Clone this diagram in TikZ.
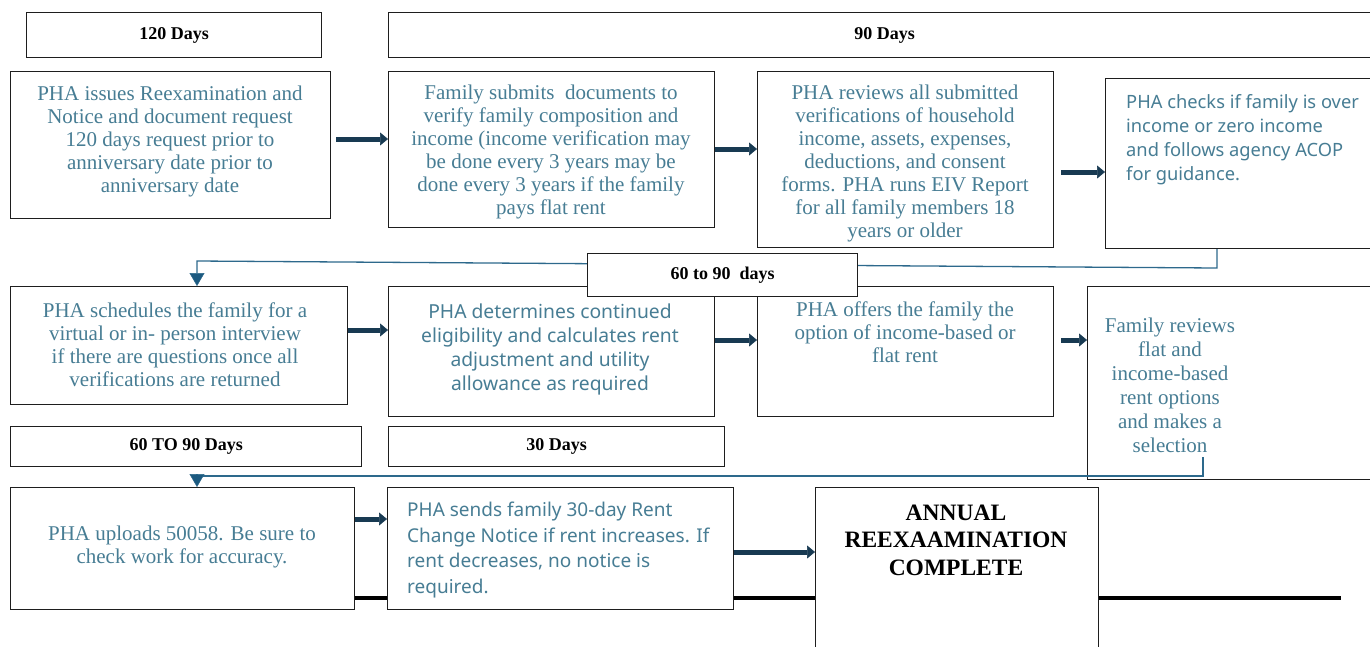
\documentclass[tikz,border=0pt]{standalone}
\usepackage{fontspec}
\setmainfont{Liberation Serif}
\newfontfamily\apt{Noto Sans}
\usetikzlibrary{arrows.meta,calc}
\definecolor{txtc}{RGB}{71,125,148}
\definecolor{arrc}{RGB}{24,58,82}
\definecolor{conc}{RGB}{45,105,140}
\definecolor{tipc}{RGB}{28,90,128}
\definecolor{bord}{RGB}{30,30,30}
\begin{document}
\begin{tikzpicture}[x=1pt,y=-1pt,
 box/.style={draw=bord, line width=1.2pt, fill=white, anchor=north west, inner sep=0pt},
 hbox/.style={box, line width=1.4pt, font=\bfseries\fontsize{18}{22}\selectfont},
 stxt/.style={text=txtc, align=center, inner sep=0pt, font=\fontsize{21}{23}\selectfont},
 ftxt/.style={text=txtc, align=left, inner sep=0pt, anchor=west, font=\apt\fontsize{18.3}{24}\selectfont},
 fctxt/.style={text=txtc, align=center, inner sep=0pt, font=\apt\fontsize{19.3}{24}\selectfont},
 btxt/.style={align=center, inner sep=0pt, font=\bfseries\fontsize{23.5}{27.5}\selectfont},
 barrow/.style={draw=arrc, line width=5pt, -{Triangle[length=8pt,width=13pt,line width=0.5pt]}},
 conn/.style={draw=conc, line width=1.3pt, -{Triangle[length=13pt,width=15pt,line width=0.5pt,fill=tipc]}},
]
\useasboundingbox (0,0) rectangle (1370,646);
\clip (0,0) rectangle (1370,646);

% headers row 1
\node[hbox, minimum width=295, minimum height=45] (h1) at (26,12) {120 Days};
\node[hbox, minimum width=992, minimum height=45] (h2) at (388,12) {90 Days};

% row 1 boxes
\node[box, minimum width=320, minimum height=147] (b1) at (10,71) {};
\node[box, minimum width=326, minimum height=156] (b2) at (388,71) {};
\node[box, minimum width=296, minimum height=176] (b3) at (757,71) {};
\node[box, minimum width=280, minimum height=170] (b4) at (1105,78) {};

\node[stxt] (t1) at (170,141) {PHA issues Reexamination and\\Notice and document request\\120 days request prior to\\anniversary date prior to\\anniversary date};
\node[stxt] (t2) at (551,152) {Family submits\ \ documents to\\verify family composition and\\income (income verification may\\be done every 3 years may be\\done every 3 years if the family\\pays flat rent};
\node[stxt] (t3) at (905,163) {PHA reviews all submitted\\verifications of household\\income, assets, expenses,\\deductions, and consent\\forms. PHA runs EIV Report\\for all family members 18\\years or older};
\node[ftxt] (t4) at (1126,140) {PHA checks if family is over\\income or zero income\\and follows agency ACOP\\for guidance.};

\draw[barrow] ($(b1.east |- 0,139)+(5,0)$) -- (b2.west |- 0,139);
\draw[barrow] (b2.east |- 0,149) -- (b3.west |- 0,149);
\draw[barrow] ($(b3.east |- 0,172)+(7,0)$) -- (b4.west |- 0,172);

% row 2 boxes
\node[box, minimum width=337, minimum height=118] (b5) at (10,286) {};
\node[box, minimum width=326, minimum height=130] (b6) at (388,286) {};
\node[box, minimum width=296, minimum height=130] (b7) at (757,286) {};
\node[box, minimum width=290, minimum height=193] (b8) at (1087,286) {};

% connector 1
\draw[conn] (b4.south -| 1217,0) -- (1217,268) -- (197,261) -- (b5.north -| 197,0);
\node[hbox, minimum width=270, minimum height=43] (h3) at (587,253) {60 to 90\ \ days};

\node[stxt] (t5) at (175,345) {PHA schedules the family for a\\virtual or in- person interview\\if there are questions once all\\verifications are returned};
\node[fctxt] (t6) at (550,349) {PHA determines continued\\eligibility and calculates rent\\adjustment and utility\\allowance as required};
\node[stxt] (t7) at (905,332) {PHA offers the family the\\option of income-based or\\flat rent};
\node[stxt, font=\fontsize{21}{24}\selectfont] (t8) at (1170,385) {Family reviews\\flat and\\income-based\\rent options\\and makes a\\selection};

\draw[barrow] (b5.east |- 0,330) -- (b6.west |- 0,330);
\draw[barrow] (b6.east |- 0,340) -- (b7.west |- 0,340);
\draw[barrow] ($(b7.east |- 0,340)+(7,0)$) -- (b8.west |- 0,340);

% headers row 3
\node[hbox, minimum width=351, minimum height=40] (h4) at (10,426) {60 TO 90 Days};
\node[hbox, minimum width=336, minimum height=40] (h5) at (388,426) {30 Days};

% connector 2
\coordinate (c2) at (1203,457);
\draw[conn] (c2) -- (1203,476) -- (197,476) -- (197,487);

% timeline line
\coordinate (lend) at (1341,598);
\draw[line width=3.5pt] (20,598) -- (lend);

% row 3 boxes
\node[box, minimum width=344, minimum height=122] (b9) at (10,487) {};
\node[box, minimum width=346, minimum height=122] (b10) at (387,487) {};
\node[box, minimum width=283, minimum height=170] (b11) at (815,487) {};

\node[stxt] (t9) at (182,547) {PHA uploads 50058. Be sure to\\check work for accuracy.};
\node[ftxt, font=\apt\fontsize{19}{25.5}\selectfont] (t10) at (407,550) {PHA sends family 30-day Rent\\Change Notice if rent increases. If\\rent decreases, no notice is\\required.};
\node[btxt] (t11) at (956,540) {ANNUAL\\REEXAAMINATION\\COMPLETE};

\draw[barrow] (b9.east |- 0,519) -- (b10.west |- 0,519);
\draw[barrow] (b10.east |- 0,552) -- (b11.west |- 0,552);
\end{tikzpicture}
\end{document}
